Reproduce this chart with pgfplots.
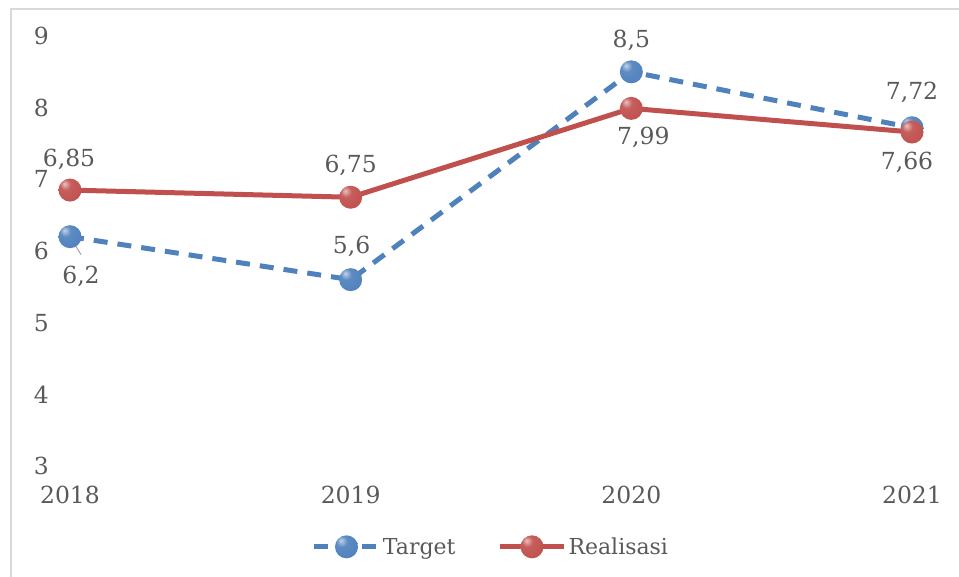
\documentclass[border=0pt]{standalone}
\usepackage{fontspec}
\setmainfont{DejaVu Serif}
\usepackage{pgfplots}
\pgfplotsset{compat=1.18}
\definecolor{tblue}{RGB}{79,129,189}
\definecolor{rred}{RGB}{192,80,77}
\definecolor{txt}{RGB}{89,89,89}
\definecolor{frame}{RGB}{217,217,217}
\colorlet{tbhi}{tblue!35!white}
\colorlet{tbmid}{tblue!92!white}
\colorlet{tbdk}{tblue!65!black}
\colorlet{rrhi}{rred!35!white}
\colorlet{rrmid}{rred!92!white}
\colorlet{rrdk}{rred!65!black}
\pgfdeclareradialshading{tballshade}{\pgfpoint{-12bp}{14bp}}{%
  color(0bp)=(tbhi); color(12bp)=(tbmid); color(38bp)=(tblue); color(56bp)=(tbdk); color(80bp)=(tbdk)}
\pgfdeclareradialshading{rballshade}{\pgfpoint{-12bp}{14bp}}{%
  color(0bp)=(rrhi); color(12bp)=(rrmid); color(38bp)=(rred); color(56bp)=(rrdk); color(80bp)=(rrdk)}
\pgfdeclareplotmark{tball}{\pgfpathcircle{\pgfpointorigin}{\pgfplotmarksize}\pgfshadepath{tballshade}{0}\pgfusepath{discard}}
\pgfdeclareplotmark{rball}{\pgfpathcircle{\pgfpointorigin}{\pgfplotmarksize}\pgfshadepath{rballshade}{0}\pgfusepath{discard}}
\newcommand{\lbl}{\fontsize{23.5}{27}\selectfont}
\newcommand{\leg}{\fontsize{22}{26}\selectfont}
\begin{document}
\begin{tikzpicture}[x=1pt,y=1pt]
\useasboundingbox (0,0) rectangle (959,577);
\draw[frame, line width=2pt] (11,0) -- (11,568) -- (959,568);
\begin{axis}[
  at={(70pt,111pt)}, anchor=south west,
  scale only axis, width=842pt, height=430pt,
  xmin=2018, xmax=2021, ymin=3, ymax=9,
  xtick={2018,2019,2020,2021}, xticklabels={2018,2019,2020,2021},
  ytick={3,4,5,6,7,8,9}, yticklabels={3,4,5,6,7,8,9},
  axis line style={draw=none}, major tick length=0pt,
  clip=false,
  tick label style={text=txt, font=\lbl},
  yticklabel style={anchor=east, inner sep=0pt, xshift=-21pt},
  xticklabel style={anchor=north, inner sep=0pt, yshift=-20pt},
  legend style={at={(0.5,-0.188)}, anchor=center, draw=none, fill=none,
    legend columns=2, font=\leg, text=txt,
    /tikz/every even column/.append style={column sep=40pt}},
  legend cell align=left,
  legend image code/.code={%
    \draw[mark repeat=2,mark phase=2,#1] plot coordinates {(0pt,0pt)(32pt,0pt)(64pt,0pt)};},
]
\addplot[tblue, line width=5pt, dash pattern=on 14pt off 10pt,
  mark=tball, mark size=11.5pt, mark options={solid}]
  coordinates {(2018,6.2) (2019,5.6) (2020,8.5) (2021,7.72)};
\addlegendentry{Target}
\addplot[rred, line width=5pt,
  mark=rball, mark size=11.5pt, mark options={solid}]
  coordinates {(2018,6.85) (2019,6.75) (2020,7.99) (2021,7.66)};
\addlegendentry{Realisasi}
\draw[gray!70, line width=1pt] (axis cs:2018,6.2) -- ++(11pt,-18pt);
\begin{scope}[every node/.style={text=txt, font=\lbl, inner sep=0pt}]
\node at (axis cs:2018,6.85) [xshift=-1pt, yshift=31pt] {6,85};
\node at (axis cs:2018,6.2) [xshift=11pt, yshift=-40pt] {6,2};
\node at (axis cs:2019,6.75) [yshift=32pt] {6,75};
\node at (axis cs:2019,5.6) [xshift=1pt, yshift=33pt] {5,6};
\node at (axis cs:2020,8.5) [yshift=31pt] {8,5};
\node at (axis cs:2020,7.99) [xshift=12pt, yshift=-29pt] {7,99};
\node at (axis cs:2021,7.72) [yshift=35pt] {7,72};
\node at (axis cs:2021,7.66) [xshift=-5pt, yshift=-30pt] {7,66};
\end{scope}
\end{axis}
\end{tikzpicture}
\end{document}
